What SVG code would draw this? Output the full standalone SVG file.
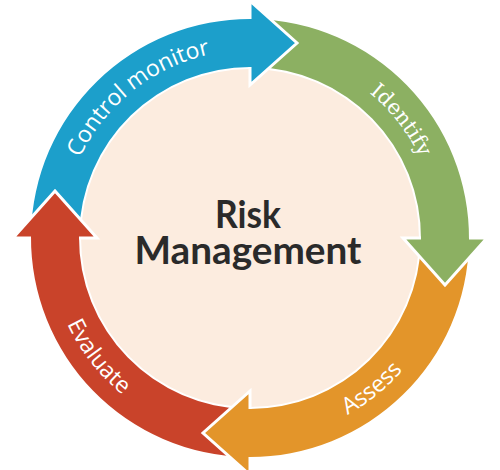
<svg xmlns="http://www.w3.org/2000/svg" width="500" height="470" viewBox="0 0 500 470">
<style>
.lbl{fill:#ffffff;font-family:"Open Sans","Liberation Sans",sans-serif;font-size:23px;}
.ser{fill:#ffffff;font-family:"DejaVu Serif","Liberation Serif",serif;font-size:21px;}
.hs{fill:none;stroke:#ffffff;stroke-width:3;stroke-linejoin:miter;}
.title{fill:#2a2a2a;font-family:Lato,"Open Sans",sans-serif;font-weight:bold;font-size:38px;}
.blue{fill:#1c9fcb;}
.green{fill:#8cb062;}
.orange{fill:#e3952a;}
.red{fill:#c9432a;}
</style>
<defs>
<path id="pControl" d="M 65.78 200.52 A 188 188 0 0 1 254.92 50.06"/>
<path id="pIdentify" d="M 320.43 63.69 A 188 188 0 0 1 436.17 211.84"/>
<path id="pAssess" d="M 281.60 437.51 A 202 202 0 0 0 438.58 310.39"/>
<path id="pEvaluate" d="M 49.97 266.11 A 202 202 0 0 0 174.33 425.29"/>
</defs>
<rect width="500" height="470" fill="#ffffff"/>
<g id="center">
<circle cx="250" cy="238" r="169" fill="#fcecdf"/>
<text class="title" x="248" y="228" text-anchor="middle" textLength="66" lengthAdjust="spacingAndGlyphs">Risk</text>
<text class="title" x="248" y="264" text-anchor="middle" textLength="227" lengthAdjust="spacingAndGlyphs">Management</text>
</g>
<g id="control-monitor">
<path class="blue" d="M 31.03 234.18 A 219 219 0 0 1 251.91 19.01 L 251.49 67.01 A 171 171 0 0 0 79.03 235.02 Z"/>
<text class="lbl"><textPath href="#pControl" startOffset="50%" text-anchor="middle">Control monitor</textPath></text>
</g>
<g id="identify">
<path class="green" d="M 253.82 19.03 A 219 219 0 0 1 468.99 239.91 L 420.99 239.49 A 171 171 0 0 0 252.98 67.03 Z"/>
<text class="ser"><textPath href="#pIdentify" startOffset="50%" text-anchor="middle">Identify</textPath></text>
</g>
<g id="assess">
<path class="orange" d="M 468.97 241.82 A 219 219 0 0 1 248.09 456.99 L 248.51 408.99 A 171 171 0 0 0 420.97 240.98 Z"/>
<text class="lbl"><textPath href="#pAssess" startOffset="50%" text-anchor="middle">Assess</textPath></text>
</g>
<g id="evaluate">
<path class="red" d="M 246.18 456.97 A 219 219 0 0 1 31.01 236.09 L 79.01 236.51 A 171 171 0 0 0 247.02 408.97 Z"/>
<text class="lbl"><textPath href="#pEvaluate" startOffset="50%" text-anchor="middle">Evaluate</textPath></text>
</g>
<g id="connectors">
<polygon class="blue" points="250,1 297,43 250,85"/>
<path class="hs" d="M 250 67 L 250 85 L 297 43 L 250 1 L 250 19"/>
<polygon class="green" points="487,238 445,285 403,238"/>
<path class="hs" d="M 421 238 L 403 238 L 445 285 L 487 238 L 469 238"/>
<polygon class="orange" points="250,475 203,433 250,391"/>
<path class="hs" d="M 250 409 L 250 391 L 203 433 L 250 475 L 250 457"/>
<polygon class="red" points="13,238 55,191 97,238"/>
<path class="hs" d="M 79 238 L 97 238 L 55 191 L 13 238 L 31 238"/>
</g>
</svg>
